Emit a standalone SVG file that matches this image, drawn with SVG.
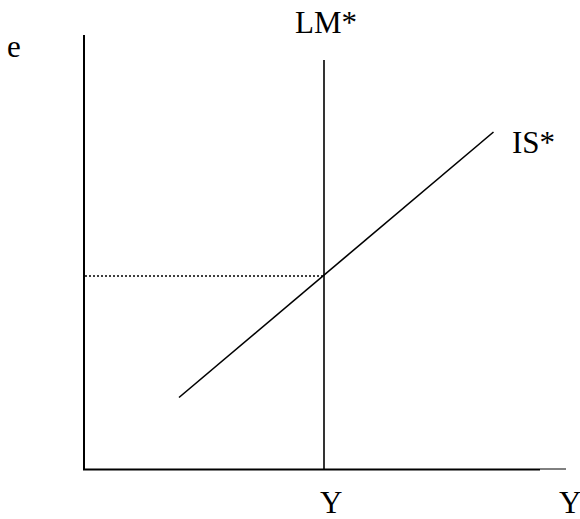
<svg xmlns="http://www.w3.org/2000/svg" width="580" height="519" viewBox="0 0 580 519">
<style>
.ax{stroke:#000;stroke-width:2;fill:none}
.ln{stroke:#000;stroke-width:1.6;fill:none}
.t{font-family:"Liberation Serif","Times New Roman",serif;font-size:31px;fill:#000}
</style>
<rect width="580" height="519" fill="#fff"/>
<g id="connectors">
<line class="ax" x1="84" y1="35" x2="84" y2="470"/>
<line class="ax" x1="83" y1="469.5" x2="540" y2="469.5"/>
<line x1="540" y1="469" x2="566" y2="469" stroke="#000" stroke-width="1"/>
<line class="ln" x1="324" y1="60" x2="324" y2="469"/>
<line class="ln" x1="179" y1="397.5" x2="493.5" y2="132"/>
<line x1="85" y1="276" x2="324" y2="276" stroke="#000" stroke-width="1.3" stroke-dasharray="2,2"/>
</g>
<g id="label-e"><text class="t" x="7" y="57">e</text></g>
<g id="label-LM"><text class="t" x="295" y="33">LM*</text></g>
<g id="label-IS"><text class="t" x="512" y="153">IS*</text></g>
<g id="label-Y1"><text class="t" x="320" y="513">Y</text></g>
<g id="label-Y2"><text class="t" x="559" y="513">Y</text></g>
</svg>
